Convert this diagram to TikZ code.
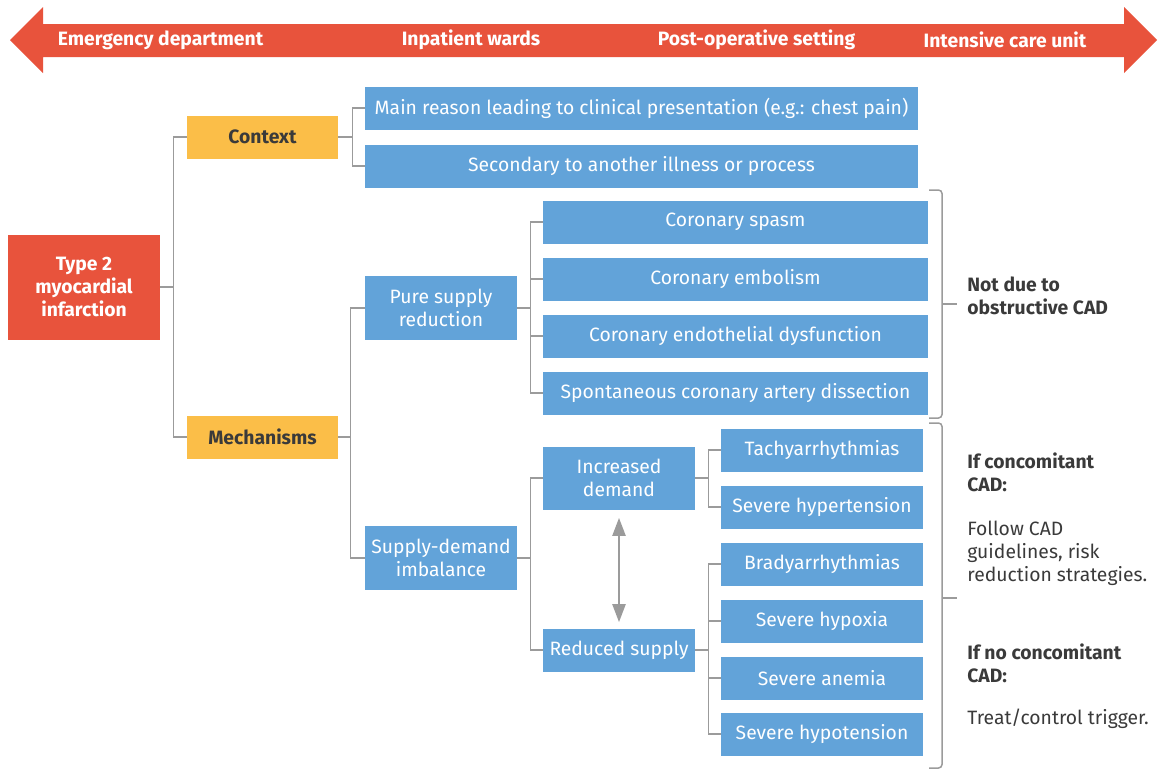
\documentclass[tikz,border=0pt]{standalone}
\usepackage{fontspec}
\setmainfont{Fira Sans}
\usepackage{xcolor}
\usepackage{tikz}
\usetikzlibrary{arrows.meta,positioning}

\definecolor{mired}{HTML}{E8533C}
\definecolor{ctxyellow}{HTML}{FBBE48}
\definecolor{boxblue}{HTML}{62A3D9}
\definecolor{linegray}{HTML}{9B9B9B}
\definecolor{txtgray}{HTML}{3A3A3A}

\tikzset{
  basefont/.style={font=\fontsize{11}{13}\selectfont},
  leafbox/.style={draw=none, rectangle, fill=boxblue, text=white, basefont, minimum height=0.86cm, inner sep=2pt},
  midbox/.style={leafbox, minimum width=3.04cm, align=center},
  catbox/.style={draw=none, rectangle, fill=ctxyellow, text=txtgray, basefont, font=\fontsize{11}{13}\selectfont\bfseries, minimum width=3.02cm, minimum height=0.86cm},
  link/.style={draw=linegray, line width=0.85pt},
  sidenote/.style={anchor=west, align=left, text=txtgray, basefont, inner sep=0pt},
  setting/.style={text=white, font=\fontsize{11}{13}\selectfont\bfseries}
}

\begin{document}
\begin{tikzpicture}[x=0.02cm, y=-0.02cm]
  \useasboundingbox (0,0) rectangle (1158,772);

  % Care settings arrow
  \fill[mired] (10,40) -- (43,7) -- (43,24) -- (1124,24) -- (1124,7) -- (1157,40) -- (1124,73) -- (1124,57) -- (43,57) -- (43,73) -- cycle;
  \node[setting] (ed) at (160.5,40) {Emergency department};
  \node[setting] (wards) at (471,40) {Inpatient wards};
  \node[setting] (postop) at (756.5,40) {Post-operative setting};
  \node[setting] (icu) at (1005,40) {Intensive care unit};

  % Nodes
  \node (type2) [rectangle, fill=mired, text=white, basefont, font=\fontsize{11}{13}\selectfont\bfseries, align=center, minimum width=3.04cm, minimum height=2.1cm] at (84,287) {Type 2\\myocardial\\infarction};

  \node (context) [catbox] at (262.5,137) {Context};
  \node (mech) [catbox] at (262.5,437) {Mechanisms};

  \node (main) [leafbox, minimum width=11.06cm] at (641.5,108) {Main reason leading to clinical presentation (e.g.: chest pain)};
  \node (second) [leafbox, minimum width=11.06cm] at (641.5,166) {Secondary to another illness or process};

  \node (pure) [midbox, minimum height=1.28cm] at (441,308) {Pure supply\\reduction};
  \node (sdi) [midbox, minimum height=1.28cm] at (441,558) {Supply-demand\\imbalance};

  \node (spasm) [leafbox, minimum width=7.7cm] at (735.5,222) {Coronary spasm};
  \node (embol) [leafbox, minimum width=7.7cm] at (735.5,279) {Coronary embolism};
  \node (endo) [leafbox, minimum width=7.7cm] at (735.5,336) {Coronary endothelial dysfunction};
  \node (scad) [leafbox, minimum width=7.7cm] at (735.5,393) {Spontaneous coronary artery dissection};

  \node (incr) [midbox, minimum height=1.26cm] at (619,478) {Increased\\demand};
  \node (reduced) [midbox] at (619,650) {Reduced supply};

  \node (tachy) [leafbox, minimum width=4.04cm] at (822,450) {Tachyarrhythmias};
  \node (hyper) [leafbox, minimum width=4.04cm] at (822,507) {Severe hypertension};
  \node (brady) [leafbox, minimum width=4.04cm] at (822,564) {Bradyarrhythmias};
  \node (hypox) [leafbox, minimum width=4.04cm] at (822,621) {Severe hypoxia};
  \node (anemia) [leafbox, minimum width=4.04cm] at (822,678) {Severe anemia};
  \node (hypot) [leafbox, minimum width=4.04cm] at (822,734) {Severe hypotension};

  % Notes
  \node (notdue) [sidenote, font=\fontsize{11}{13}\selectfont\bfseries] at (967,295.5) {Not due to\\obstructive CAD};
  \node (ifconc) [sidenote, font=\fontsize{11}{13}\selectfont\bfseries] at (967,472.5) {If concomitant\\CAD:};
  \node (follow) [sidenote] at (967,553) {Follow CAD\\guidelines, risk\\reduction strategies.};
  \node (ifno) [sidenote, font=\fontsize{11}{13}\selectfont\bfseries] at (967,663) {If no concomitant\\CAD:};
  \node (treat) [sidenote] at (967,719) {Treat/control trigger.};

  % Edges
  \draw[link] (type2.east) -- ++(13,0) |- (context.west);
  \draw[link] (type2.east) -- ++(13,0) |- (mech.west);
  \draw[link] (context.east) -- ++(14,0) |- (main.west);
  \draw[link] (context.east) -- ++(14,0) |- (second.west);
  \draw[link] (mech.east) -- ++(12,0) |- (pure.west);
  \draw[link] (mech.east) -- ++(12,0) |- (sdi.west);
  \foreach \leaf in {spasm, embol, endo, scad}
    \draw[link] (pure.east) -- ++(13,0) |- (\leaf.west);
  \draw[link] (sdi.east) -- ++(13,0) |- (incr.west);
  \draw[link] (sdi.east) -- ++(13,0) |- (reduced.west);
  \foreach \leaf in {tachy, hyper}
    \draw[link] (incr.east) -- ++(13,0) |- (\leaf.west);
  \foreach \leaf in {brady, hypox, anemia, hypot}
    \draw[link] (reduced.east) -- ++(13,0) |- (\leaf.west);
  \draw[draw=linegray, line width=1.3pt, {Triangle[length=0.36cm,width=0.26cm]}-{Triangle[length=0.36cm,width=0.26cm]}] ([yshift=-0.16cm]incr.south) -- ([yshift=0.12cm]reduced.north);

  % Brackets
  \draw[link, rounded corners=2pt] (929,190) -- (942,190) -- (942,418) -- (929,418);
  \draw[link] (942,304) -- (957,304);
  \draw[link, rounded corners=2pt] (929,423) -- (942,423) -- (942,768) -- (929,768);
  \draw[link] (942,598) -- (957,598);
\end{tikzpicture}
\end{document}
